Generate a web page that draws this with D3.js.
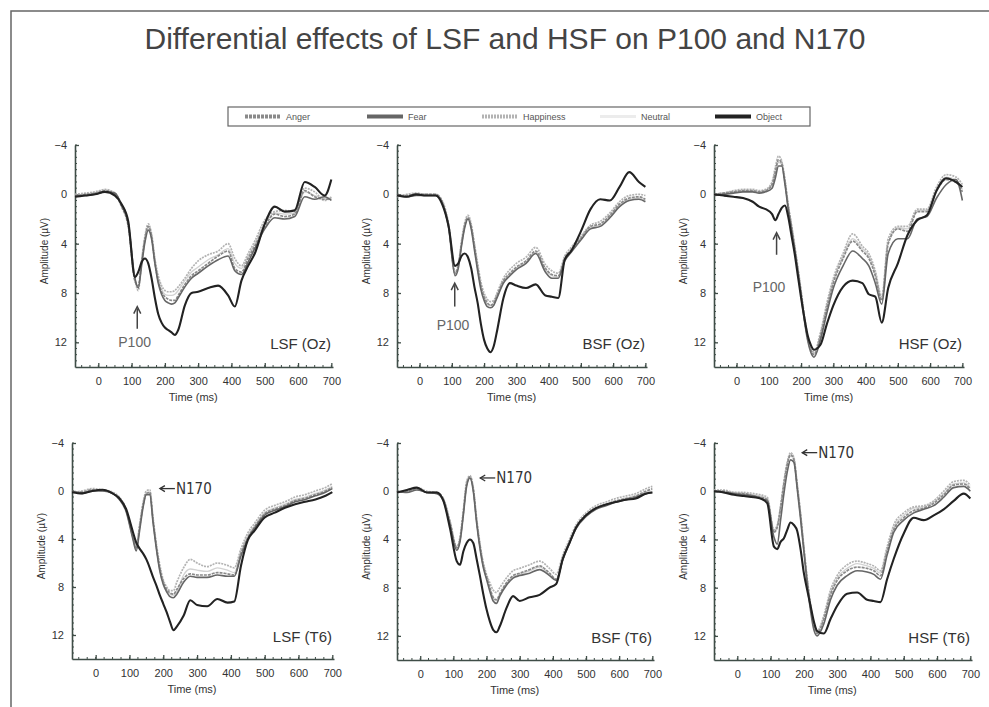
<!DOCTYPE html>
<html>
<head>
<meta charset="utf-8">
<script src="https://cdn.jsdelivr.net/npm/d3@7"></script>
<style>
  html, body { margin: 0; padding: 0; background: #fff; }
  svg { display: block; font-family: "Liberation Sans", Arial, sans-serif; }
</style>
</head>
<body>
<svg id="chart" width="989" height="707"></svg>
<script>
const TITLE = "Differential effects of LSF and HSF on P100 and N170";
const SERIES_NAMES = ["Anger", "Fear", "Happiness", "Neutral", "Object"];
const PANEL_LABELS = ["LSF (Oz)", "BSF (Oz)", "HSF (Oz)", "LSF (T6)", "BSF (T6)", "HSF (T6)"];
const Y_TICKS = [-4, 0, 4, 8, 12];
const X_TICKS = [0, 100, 200, 300, 400, 500, 600, 700];

// sample times (ms), shared by every waveform
const TIMES = [-70, -40, -10, 20, 50, 70, 90, 110, 120, 130, 140, 150, 160, 170, 180, 190, 200, 210, 220, 230,
  240, 260, 280, 300, 330, 360, 390, 410, 430, 450, 470, 500, 530, 560, 590, 620, 650, 680, 700];

// LSF (Oz)
const lsfOzAnger = [0.2, 0.0, -0.1, -0.3, 0.0, 1.0, 2.6, 7.0, 7.4, 5.5, 3.6, 2.6, 3.4, 5.5, 7.0, 7.9, 8.3, 8.5, 8.6, 8.6, 8.2, 7.3, 6.6, 6.2, 5.6, 5.0, 4.6, 6.0, 6.3, 5.2, 4.2, 2.6, 1.6, 1.8, 1.6, -0.3, 0.2, 0.4, 0.4];
const lsfOzFear = [0.1, 0.1, 0.0, -0.2, -0.1, 0.9, 2.4, 6.8, 7.6, 5.8, 3.9, 2.9, 3.6, 5.6, 7.2, 8.1, 8.6, 8.8, 8.9, 8.8, 8.4, 7.5, 6.8, 6.4, 5.8, 5.3, 5.0, 6.2, 6.5, 5.5, 4.4, 2.8, 1.9, 2.0, 1.8, 0.2, 0.4, 0.2, 0.5];
const lsfOzHappy = [0.0, -0.1, -0.2, -0.4, -0.1, 0.8, 2.3, 6.9, 7.8, 5.4, 3.4, 2.4, 3.2, 5.2, 6.6, 7.4, 7.8, 7.9, 7.9, 7.8, 7.5, 6.8, 6.0, 5.4, 4.9, 4.6, 4.0, 5.2, 5.8, 4.8, 3.8, 2.1, 1.4, 1.3, 1.4, -0.5, -0.2, 0.5, 0.2];
const lsfOzNeutral = [0.1, 0.0, -0.1, -0.2, 0.0, 0.9, 2.5, 7.1, 7.5, 5.6, 3.8, 2.7, 3.5, 5.4, 6.8, 7.7, 8.1, 8.2, 8.2, 8.1, 7.8, 7.0, 6.3, 5.9, 5.3, 4.9, 4.4, 5.6, 6.0, 5.0, 4.0, 2.4, 1.5, 1.6, 1.5, -0.2, 0.1, 0.3, 0.3];
const lsfOzObject = [0.2, 0.1, 0.0, -0.2, 0.1, 0.8, 2.2, 6.7, 6.3, 5.5, 5.2, 5.6, 6.8, 8.4, 9.7, 10.4, 10.8, 11.0, 11.2, 11.4, 11.0, 9.0, 8.0, 7.9, 7.6, 7.4, 8.2, 9.1, 7.0, 5.8, 4.8, 2.4, 1.0, 1.4, 1.3, -1.0, -0.6, 0.1, -1.2];

// BSF (Oz)
const bsfOzAnger = [0.1, 0.1, 0.0, 0.0, 0.0, 0.6, 2.5, 6.4, 5.8, 4.0, 2.5, 1.9, 2.6, 4.2, 5.9, 7.4, 8.3, 8.8, 9.0, 8.8, 8.2, 7.0, 6.4, 5.9, 5.4, 4.6, 6.0, 6.5, 6.6, 5.2, 4.5, 3.6, 2.6, 2.4, 1.7, 0.8, 0.3, 0.2, 0.4];
const bsfOzFear = [0.0, 0.2, 0.1, 0.1, 0.1, 0.7, 2.7, 6.6, 6.0, 4.2, 2.7, 2.0, 2.8, 4.5, 6.2, 7.7, 8.6, 9.1, 9.2, 9.0, 8.4, 7.2, 6.6, 6.1, 5.6, 4.8, 6.3, 6.8, 6.8, 5.4, 4.7, 3.7, 2.8, 2.6, 1.9, 1.0, 0.5, 0.4, 0.6];
const bsfOzHappy = [0.2, 0.0, -0.1, 0.0, 0.0, 0.5, 2.4, 6.3, 5.7, 3.8, 2.3, 1.7, 2.4, 4.0, 5.6, 7.1, 8.0, 8.5, 8.7, 8.6, 8.0, 6.8, 6.1, 5.6, 5.1, 4.3, 5.7, 6.2, 6.4, 5.0, 4.3, 3.4, 2.5, 2.2, 1.5, 0.6, 0.1, 0.0, 0.1];
const bsfOzNeutral = [0.1, 0.1, 0.0, 0.0, 0.1, 0.6, 2.6, 6.5, 5.9, 4.1, 2.6, 1.8, 2.7, 4.3, 6.0, 7.5, 8.4, 8.9, 9.0, 8.9, 8.3, 7.1, 6.5, 6.0, 5.5, 4.7, 6.1, 6.6, 6.7, 5.3, 4.6, 3.5, 2.7, 2.5, 1.8, 0.9, 0.4, 0.3, 0.5];
const bsfOzObject = [0.1, 0.2, 0.0, 0.1, 0.1, 0.8, 2.6, 5.8, 5.6, 5.0, 4.8, 5.1, 6.0, 7.5, 8.8, 10.5, 11.8, 12.5, 12.8, 12.3, 11.1, 8.4, 7.2, 7.4, 7.6, 7.3, 8.2, 8.3, 8.4, 5.3, 4.6, 3.0, 1.2, 0.4, 0.5, -0.6, -1.8, -1.0, -0.6];

// HSF (Oz)
const hsfOzAnger = [0.0, -0.1, -0.2, -0.3, -0.3, -0.2, -0.3, -0.8, -1.8, -2.8, -2.5, -1.0, 1.0, 2.6, 4.3, 6.1, 8.0, 10.0, 11.6, 12.6, 13.0, 11.5, 9.2, 7.2, 5.2, 3.8, 4.6, 5.2, 6.6, 8.6, 4.0, 2.8, 3.0, 1.4, 1.4, -0.3, -1.2, -1.0, -0.2];
const hsfOzFear = [0.1, 0.0, -0.1, -0.2, -0.2, -0.1, -0.2, -0.5, -1.3, -2.3, -2.3, -0.8, 1.2, 2.8, 4.5, 6.3, 8.2, 10.2, 11.8, 12.8, 13.2, 11.8, 9.6, 7.6, 5.8, 4.6, 5.2, 5.8, 7.2, 8.9, 4.8, 3.6, 3.6, 2.0, 1.8, 0.3, -0.8, -1.2, 0.5];
const hsfOzHappy = [0.0, -0.1, -0.3, -0.4, -0.4, -0.3, -0.4, -1.0, -2.2, -3.1, -2.7, -1.2, 0.8, 2.4, 4.1, 5.9, 7.8, 9.8, 11.4, 12.4, 12.8, 11.2, 8.8, 6.8, 4.8, 3.2, 4.2, 4.8, 6.2, 8.3, 3.6, 2.6, 2.6, 1.2, 1.2, -0.6, -1.6, -1.4, -0.8];
const hsfOzNeutral = [0.0, -0.1, -0.2, -0.3, -0.3, -0.2, -0.3, -0.7, -1.7, -2.6, -2.4, -1.1, 0.9, 2.5, 4.2, 6.0, 7.9, 9.9, 11.5, 12.5, 12.9, 11.4, 9.0, 7.0, 5.0, 3.6, 4.4, 5.0, 6.4, 8.5, 3.9, 2.7, 2.8, 1.3, 1.3, -0.4, -1.4, -1.2, -0.4];
const hsfOzObject = [0.0, 0.1, 0.2, 0.3, 0.6, 1.0, 1.2, 1.6, 2.1, 1.6, 1.1, 0.9, 1.8, 3.3, 4.8, 6.6, 8.4, 10.0, 11.4, 12.2, 12.6, 12.2, 10.5, 9.0, 7.5, 7.0, 7.2, 8.1, 8.3, 10.4, 7.6, 5.6, 3.3, 2.1, 1.7, -0.3, -1.3, -1.0, -0.6];

// LSF (T6)
const lsfT6Anger = [0.1, 0.1, -0.1, -0.1, 0.2, 0.6, 1.6, 3.8, 4.8, 3.0, 1.2, 0.2, 0.1, 2.5, 4.7, 6.5, 7.6, 8.2, 8.5, 8.6, 8.2, 7.3, 6.9, 7.0, 7.0, 6.8, 6.9, 7.0, 5.2, 3.9, 3.0, 1.9, 1.5, 1.2, 0.8, 0.6, 0.3, 0.0, -0.3];
const lsfT6Fear = [0.0, 0.2, 0.0, 0.0, 0.2, 0.7, 1.7, 4.0, 5.0, 3.3, 1.4, 0.3, 0.3, 2.7, 4.9, 6.7, 7.8, 8.4, 8.8, 8.9, 8.6, 7.6, 7.1, 7.2, 7.2, 7.0, 7.1, 7.1, 5.4, 4.0, 3.1, 2.0, 1.6, 1.3, 0.9, 0.7, 0.4, 0.1, -0.2];
const lsfT6Happy = [0.1, 0.0, -0.2, -0.1, 0.1, 0.5, 1.5, 3.6, 4.6, 2.8, 1.0, 0.0, -0.1, 2.3, 4.5, 6.2, 7.4, 8.0, 8.3, 8.3, 7.6, 6.4, 5.7, 6.0, 6.3, 6.0, 6.2, 6.4, 4.8, 3.5, 2.7, 1.6, 1.2, 0.9, 0.5, 0.3, 0.0, -0.3, -0.6];
const lsfT6Neutral = [0.1, 0.1, -0.1, 0.0, 0.2, 0.6, 1.6, 3.9, 4.9, 3.1, 1.3, 0.2, 0.2, 2.6, 4.8, 6.6, 7.7, 8.3, 8.6, 8.7, 8.4, 7.0, 6.5, 6.6, 6.7, 6.4, 6.6, 6.8, 5.0, 3.7, 2.9, 1.8, 1.4, 1.1, 0.7, 0.5, 0.2, -0.1, -0.4];
const lsfT6Object = [0.1, 0.2, 0.0, -0.1, 0.2, 0.6, 1.5, 3.4, 4.3, 4.8, 5.2, 5.7, 6.4, 7.2, 7.9, 8.7, 9.4, 10.1, 10.9, 11.6, 11.3, 10.4, 9.1, 9.5, 9.6, 9.0, 9.3, 9.2, 6.2, 4.1, 3.3, 2.2, 1.8, 1.4, 1.1, 0.9, 0.7, 0.4, 0.1];

// BSF (T6)
const bsfT6Anger = [0.1, 0.0, -0.2, 0.1, 0.1, 0.7, 2.6, 4.7, 4.0, 1.8, -0.6, -1.2, -0.2, 2.4, 4.5, 6.1, 7.1, 8.0, 8.8, 9.0, 8.5, 7.6, 7.0, 6.8, 6.5, 6.2, 6.8, 7.3, 5.6, 4.3, 3.0, 2.0, 1.4, 1.1, 0.8, 0.6, 0.4, 0.0, -0.2];
const bsfT6Fear = [0.0, 0.1, -0.1, 0.1, 0.2, 0.8, 2.8, 4.9, 4.2, 2.0, -0.4, -1.1, 0.0, 2.6, 4.7, 6.3, 7.3, 8.3, 9.1, 9.3, 8.7, 7.8, 7.2, 7.0, 6.8, 6.5, 7.0, 7.4, 5.7, 4.3, 3.1, 2.1, 1.5, 1.2, 0.9, 0.7, 0.5, 0.2, 0.1];
const bsfT6Happy = [0.1, -0.1, -0.3, 0.0, 0.1, 0.6, 2.5, 4.6, 3.8, 1.6, -0.8, -1.3, -0.3, 2.2, 4.3, 5.9, 6.9, 7.6, 8.2, 8.4, 8.0, 7.2, 6.6, 6.4, 6.1, 5.8, 6.4, 6.9, 5.3, 4.0, 2.8, 1.8, 1.2, 0.9, 0.6, 0.4, 0.2, -0.2, -0.4];
const bsfT6Neutral = [0.1, 0.0, -0.2, 0.1, 0.1, 0.7, 2.7, 4.8, 4.1, 1.9, -0.5, -1.2, -0.1, 2.5, 4.6, 6.2, 7.2, 8.1, 8.9, 9.1, 8.6, 7.7, 7.1, 6.9, 6.6, 6.3, 6.9, 7.3, 5.6, 4.2, 3.0, 2.0, 1.4, 1.1, 0.8, 0.6, 0.4, 0.1, 0.0];
const bsfT6Object = [0.1, -0.1, -0.3, 0.1, 0.1, 0.8, 3.1, 5.8, 6.1, 5.0, 4.3, 4.0, 4.3, 5.6, 7.0, 8.5, 9.8, 10.8, 11.5, 11.7, 11.2, 9.7, 8.7, 9.1, 8.8, 8.6, 8.0, 7.7, 5.6, 4.3, 3.0, 2.0, 1.4, 1.1, 0.9, 0.7, 0.6, 0.2, 0.1];

// HSF (T6)
const hsfT6Anger = [0.0, 0.0, 0.2, 0.2, 0.4, 0.5, 0.7, 3.4, 3.0, 1.4, -0.6, -2.2, -3.0, -2.6, -0.4, 2.0, 4.8, 7.4, 9.6, 11.2, 11.8, 10.6, 8.6, 7.4, 6.6, 6.3, 6.4, 6.6, 7.0, 5.0, 3.2, 2.2, 1.6, 1.4, 1.0, 0.3, -0.5, -0.6, -0.2];
const hsfT6Fear = [0.0, 0.1, 0.2, 0.3, 0.4, 0.6, 0.8, 3.8, 4.4, 2.4, 0.2, -1.6, -2.6, -2.4, -0.2, 2.3, 5.0, 7.7, 9.9, 11.5, 12.0, 11.0, 9.0, 7.8, 7.0, 6.6, 6.7, 6.9, 7.3, 5.3, 3.4, 2.4, 1.8, 1.5, 1.2, 0.5, -0.3, -0.4, 0.0];
const hsfT6Happy = [-0.1, -0.1, 0.1, 0.1, 0.2, 0.3, 0.5, 3.2, 2.8, 1.2, -0.8, -2.4, -3.2, -2.8, -0.6, 1.8, 4.6, 7.2, 9.4, 11.0, 11.6, 10.3, 8.2, 7.0, 6.1, 5.8, 6.0, 6.2, 6.6, 4.6, 2.8, 1.8, 1.3, 1.2, 0.8, 0.0, -0.8, -0.9, -0.5];
const hsfT6Neutral = [0.0, 0.0, 0.1, 0.2, 0.3, 0.4, 0.6, 3.3, 2.9, 1.3, -0.7, -2.3, -3.1, -2.7, -0.5, 1.9, 4.7, 7.3, 9.5, 11.1, 11.7, 10.5, 8.4, 7.2, 6.4, 6.0, 6.2, 6.4, 6.8, 4.8, 3.0, 2.0, 1.4, 1.3, 0.9, 0.2, -0.6, -0.7, -0.3];
const hsfT6Object = [0.0, 0.1, 0.3, 0.4, 0.5, 0.6, 1.0, 4.6, 4.8, 4.2, 3.9, 3.2, 2.6, 2.8, 3.3, 4.8, 6.8, 8.2, 9.5, 10.8, 11.6, 11.8, 10.6, 9.5, 8.5, 8.4, 9.0, 9.1, 9.2, 7.3, 5.6, 3.5, 2.2, 2.4, 2.0, 1.5, 0.8, 0.2, 0.6];

const PANEL_DATA = [
  [lsfOzAnger, lsfOzFear, lsfOzHappy, lsfOzNeutral, lsfOzObject],
  [bsfOzAnger, bsfOzFear, bsfOzHappy, bsfOzNeutral, bsfOzObject],
  [hsfOzAnger, hsfOzFear, hsfOzHappy, hsfOzNeutral, hsfOzObject],
  [lsfT6Anger, lsfT6Fear, lsfT6Happy, lsfT6Neutral, lsfT6Object],
  [bsfT6Anger, bsfT6Fear, bsfT6Happy, bsfT6Neutral, bsfT6Object],
  [hsfT6Anger, hsfT6Fear, hsfT6Happy, hsfT6Neutral, hsfT6Object]
];

// plot frames in pixels (x axis spans -70..705 ms, y axis -4..14 uV)
const FRAMES = [
  { left: 75, right: 333, top: 145, bottom: 367 },
  { left: 397, right: 647, top: 145, bottom: 367 },
  { left: 714, right: 964, top: 145, bottom: 367 },
  { left: 72, right: 334, top: 443, bottom: 659 },
  { left: 397, right: 654, top: 443, bottom: 660 },
  { left: 714, right: 972, top: 443, bottom: 660 }
];

// annotation: P100 arrows (top row) and N170 arrows (bottom row)
const ANNOTATIONS = [
  { kind: "P100", t: 117, head: 9.1, tail: 10.9, textT: 60, textY: 12.4 },
  { kind: "P100", t: 109, head: 7.2, tail: 9.1, textT: 53, textY: 11.0 },
  { kind: "P100", t: 124, head: 3.1, tail: 4.9, textT: 50, textY: 7.9 },
  { kind: "N170", t: 190, v: -0.2 },
  { kind: "N170", t: 181, v: -1.1 },
  { kind: "N170", t: 195, v: -3.2 }
];

const STYLES = {
  Anger: { color: "#8a8a8a", width: 1.7, dash: "3,1" },
  Fear: { color: "#666666", width: 1.6, dash: null },
  Happiness: { color: "#b3b3b3", width: 1.7, dash: "2,1" },
  Neutral: { color: "#d2d2d2", width: 1.3, dash: null },
  Object: { color: "#222222", width: 2.1, dash: null }
};
const DRAW_ORDER = [3, 2, 0, 1, 4];

const svg = d3.select("#chart");
const AXIS_COLOR = "#3f4d47";

// outer frame
svg.append("path")
  .attr("d", "M11,707 L11,11 L989,11")
  .attr("fill", "none")
  .attr("stroke", "#666")
  .attr("stroke-width", 1.5);

svg.append("text")
  .attr("x", 505)
  .attr("y", 49)
  .attr("text-anchor", "middle")
  .attr("font-size", 30)
  .attr("fill", "#444")
  .text(TITLE);

drawLegend();
PANEL_DATA.forEach((series, i) => drawPanel(i, series));

function drawLegend() {
  const g = svg.append("g");
  g.append("rect")
    .attr("x", 228).attr("y", 107).attr("width", 582).attr("height", 19)
    .attr("fill", "#fff").attr("stroke", "#666").attr("stroke-width", 1.2);
  const swatchX = [245, 367, 482, 600, 715];
  SERIES_NAMES.forEach((name, i) => {
    const st = STYLES[name];
    g.append("line")
      .attr("x1", swatchX[i]).attr("x2", swatchX[i] + 36)
      .attr("y1", 116.5).attr("y2", 116.5)
      .attr("stroke", name === "Neutral" ? "#ececec" : st.color)
      .attr("stroke-width", name === "Neutral" ? 3 : 4)
      .attr("stroke-dasharray", st.dash);
    g.append("text")
      .attr("x", swatchX[i] + 41).attr("y", 119.5)
      .attr("font-size", 9).attr("fill", "#555")
      .text(name);
  });
}

function drawPanel(i, series) {
  const f = FRAMES[i];
  const x = d3.scaleLinear().domain([-70, 705]).range([f.left, f.right]);
  const y = d3.scaleLinear().domain([-4, 14]).range([f.top, f.bottom]);
  const g = svg.append("g");

  // minor ticks
  g.append("g").selectAll("line")
    .data(d3.range(-50, 705, 25))
    .join("line")
    .attr("x1", (d) => x(d)).attr("x2", (d) => x(d))
    .attr("y1", f.bottom).attr("y2", f.bottom - 2)
    .attr("stroke", AXIS_COLOR).attr("stroke-width", 1);
  g.append("g").selectAll("line")
    .data(d3.range(-4, 14, 0.5))
    .join("line")
    .attr("x1", f.left).attr("x2", f.left + 2)
    .attr("y1", (d) => y(d)).attr("y2", (d) => y(d))
    .attr("stroke", AXIS_COLOR).attr("stroke-width", 1);

  const xAxis = g.append("g")
    .attr("transform", `translate(0,${f.bottom})`)
    .call(d3.axisBottom(x).tickValues(X_TICKS).tickSize(-4).tickPadding(8).tickSizeOuter(0));
  const yAxis = g.append("g")
    .attr("transform", `translate(${f.left},0)`)
    .call(d3.axisLeft(y).tickValues(Y_TICKS).tickSize(-4).tickPadding(8).tickSizeOuter(0));
  [xAxis, yAxis].forEach((a) => {
    a.select(".domain").attr("stroke", AXIS_COLOR).attr("stroke-width", 1.6);
    a.selectAll(".tick line").attr("stroke", AXIS_COLOR).attr("stroke-width", 1.3);
    a.selectAll(".tick text")
      .attr("font-family", "'Liberation Sans', Arial, sans-serif")
      .attr("font-size", 11).attr("fill", "#333");
  });
  xAxis.selectAll(".tick text").attr("dy", "0.9em");

  g.append("text")
    .attr("x", x(285)).attr("y", f.bottom + 34)
    .attr("text-anchor", "middle").attr("font-size", 11).attr("fill", "#333")
    .text("Time (ms)");
  g.append("text")
    .attr("transform", `translate(${f.left - 27},${y(4.6)}) rotate(-90)`)
    .attr("text-anchor", "middle").attr("font-size", 10).attr("fill", "#333")
    .text("Amplitude (\u00b5V)");

  const line = d3.line()
    .x((d) => x(d[0]))
    .y((d) => y(d[1]))
    .curve(d3.curveMonotoneX);

  DRAW_ORDER.forEach((k) => {
    const name = SERIES_NAMES[k];
    const st = STYLES[name];
    g.append("path")
      .datum(TIMES.map((t, j) => [t, series[k][j]]))
      .attr("fill", "none")
      .attr("stroke", st.color)
      .attr("stroke-width", st.width)
      .attr("stroke-dasharray", st.dash)
      .attr("stroke-linejoin", "round")
      .attr("d", line);
  });

  g.append("text")
    .attr("x", f.right - 2).attr("y", y(12) + 7)
    .attr("text-anchor", "end").attr("font-size", 15).attr("fill", "#333")
    .text(PANEL_LABELS[i]);

  const a = ANNOTATIONS[i];
  if (a.kind === "P100") {
    const ax = x(a.t);
    g.append("line")
      .attr("x1", ax).attr("x2", ax)
      .attr("y1", y(a.tail)).attr("y2", y(a.head) + 2)
      .attr("stroke", "#444").attr("stroke-width", 1.5);
    g.append("path")
      .attr("d", `M${ax - 3.5},${y(a.head) + 7} L${ax},${y(a.head)} L${ax + 3.5},${y(a.head) + 7}`)
      .attr("fill", "none").attr("stroke", "#444").attr("stroke-width", 1.5);
    g.append("text")
      .attr("x", x(a.textT)).attr("y", y(a.textY))
      .attr("font-size", 14).attr("fill", "#666")
      .text("P100");
  } else {
    const ax = x(a.t);
    const ay = y(a.v);
    g.append("line")
      .attr("x1", ax).attr("x2", ax + 15)
      .attr("y1", ay).attr("y2", ay)
      .attr("stroke", "#333").attr("stroke-width", 1.3);
    g.append("path")
      .attr("d", `M${ax + 5},${ay - 3} L${ax},${ay} L${ax + 5},${ay + 3}`)
      .attr("fill", "none").attr("stroke", "#333").attr("stroke-width", 1.3);
    g.append("text")
      .attr("x", ax + 16).attr("y", ay + 5.5)
      .attr("font-family", "'Liberation Sans Narrow', 'DejaVu Sans Condensed', sans-serif")
      .attr("font-size", 15).attr("fill", "#333")
      .text("N170");
  }
}
</script>
</body>
</html>
